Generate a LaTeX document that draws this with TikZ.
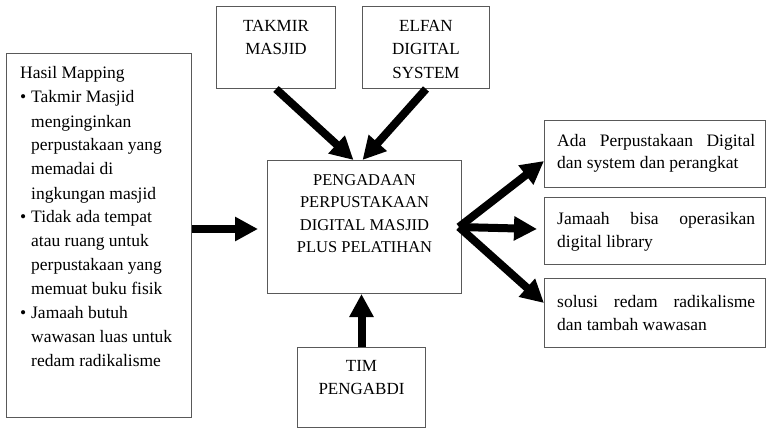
\documentclass[tikz,border=0pt]{standalone}
\usepackage{fontspec}
\setmainfont{Liberation Serif}
\usetikzlibrary{arrows.meta,calc}
\begin{document}
\begin{tikzpicture}[x=1pt,y=-1pt,
  box/.style={draw=black!65,line width=1pt,inner sep=0pt,anchor=north west},
  arr/.style={line width=8pt,-{Triangle[length=23pt,width=23pt]}},
  lbl/.style={inner sep=0pt,anchor=base west},
  ctr/.style={inner sep=0pt,anchor=base}]
\useasboundingbox (0,0) rectangle (766,428);
% boxes
\node[box,minimum width=185pt,minimum height=364pt] (left) at (6,53) {};
\node[box,minimum width=119pt,minimum height=82pt] (takmir) at (216,6) {};
\node[box,minimum width=127pt,minimum height=82pt] (elfan) at (362,6) {};
\node[box,minimum width=194pt,minimum height=133pt] (center) at (267,160) {};
\node[box,minimum width=128pt,minimum height=80pt] (tim) at (297,347) {};
\node[box,minimum width=221pt,minimum height=67pt] (r1) at (544,120) {};
\node[box,minimum width=221pt,minimum height=67pt] (r2) at (544,197) {};
\node[box,minimum width=221pt,minimum height=69pt] (r3) at (544,278) {};
% texts
\node[lbl] (lefttxt) at (20,79) {\parbox[t]{170pt}{\fontsize{17.5}{24}\selectfont\raggedright
Hasil Mapping\\
\makebox[11pt][l]{•}Takmir Masjid\\
\hspace*{11pt}menginginkan\\
\hspace*{11pt}perpustakaan yang\\
\hspace*{11pt}memadai di\\
\hspace*{11pt}ingkungan masjid\\
\makebox[11pt][l]{•}Tidak ada tempat\\
\hspace*{11pt}atau ruang untuk\\
\hspace*{11pt}perpustakaan yang\\
\hspace*{11pt}memuat buku fisik\\
\makebox[11pt][l]{•}Jamaah butuh\\
\hspace*{11pt}wawasan luas untuk\\
\hspace*{11pt}redam radikalisme}};
\node[ctr] (takmirtxt) at (takmir.north |- 0,31.3) {\parbox[t]{115pt}{\fontsize{17}{23.3}\selectfont\centering TAKMIR\\ MASJID}};
\node[ctr] (elfantxt) at (elfan.north |- 0,31.3) {\parbox[t]{123pt}{\fontsize{17}{23.6}\selectfont\centering ELFAN\\ DIGITAL\\ SYSTEM}};
\node[ctr] (centertxt) at (center.north |- 0,185) {\parbox[t]{190pt}{\fontsize{16.5}{22.5}\selectfont\centering PENGADAAN\\ PERPUSTAKAAN\\ DIGITAL MASJID\\ PLUS PELATIHAN}};
\node[ctr] (timtxt) at (tim.north |- 0,371) {\parbox[t]{124pt}{\fontsize{17}{23}\selectfont\centering TIM\\ PENGABDI}};
\node[lbl] (r1txt) at (557,146) {\parbox[t]{198pt}{\fontsize{17.5}{23}\selectfont Ada\hfill Perpustakaan\hfill Digital\\ dan system dan perangkat}};
\node[lbl] (r2txt) at (557,224) {\parbox[t]{198pt}{\fontsize{17.5}{23}\selectfont Jamaah\hfill bisa\hfill operasikan\\ digital library}};
\node[lbl] (r3txt) at (557,307) {\parbox[t]{198pt}{\fontsize{17.5}{23}\selectfont solusi\hfill redam\hfill radikalisme\\ dan tambah wawasan}};
% arrows
\draw[arr] (takmir.south) -- ($(center.north)+(-11,0)$);
\draw[arr] (elfan.south) -- ($(center.north)+(-2,0)$);
\draw[arr] ($(left.east |- center.west)+(0,2)$) -- ($(center.west)+(-9,2)$);
\draw[arr] (tim.north) -- (tim.north |- center.south);
\coordinate (hub) at ($(center.east)+(-3,0)$);
\draw[arr] (hub) -- ($(r1.south west)+(0,-27)$);
\draw[arr] (hub) -- ($(r2.west)+(-7,-2)$);
\draw[arr] (hub) -- ($(r3.north west)+(0,25)$);
\end{tikzpicture}
\end{document}
